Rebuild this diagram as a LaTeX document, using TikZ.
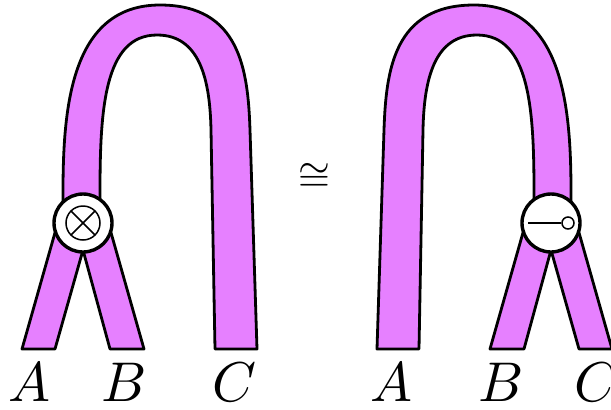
\documentclass[tikz,border=0pt]{standalone}
\usetikzlibrary{calc}
\definecolor{tube}{RGB}{230,128,255}
\newcommand\halftubes{%
  \path[tubestyle] (22,349) -- (55,349) -- (83,250) -- (60,215) -- cycle;
  \path[tubestyle] (110,349) -- (144,349) -- (106,215) -- (83,250) -- cycle;
  \path[tubestyle] (63,232) -- (63,193) .. controls (63,110) and (70,5) .. (160,5)
     .. controls (240,5) and (248,70) .. (250,130) -- (257,349) -- (215,349)
     -- (211,130) .. controls (210,80) and (200,35) .. (157,35)
     .. controls (104,35) and (100,110) .. (100,193) -- (100,232) -- cycle;
}
\begin{document}
\begin{tikzpicture}[x=0.5pt,y=-0.5pt,
  tubestyle/.style={fill=tube, draw=black, line width=1.4pt, line join=round},
  nodering/.style={circle, draw, fill=white, line width=1.7pt, minimum size=29pt, inner sep=0pt},
  symline/.style={line width=0.75pt},
  lab/.style={scale=2.8, anchor=base, inner sep=0pt}]
\useasboundingbox (0,0) rectangle (611,409);
% left diagram
\halftubes
\node[nodering] (m1) at (83,223) {};
\draw[symline] (m1.center) circle[radius=8.5pt];
\draw[symline] ($(m1.center)+(45:17)$) -- ($(m1.center)+(225:17)$);
\draw[symline] ($(m1.center)+(135:17)$) -- ($(m1.center)+(315:17)$);
% right diagram (mirror)
\begin{scope}[shift={(634,0)}, xscale=-1]
\halftubes
\end{scope}
\node[nodering] (m2) at (551,223) {};
\coordinate (s1) at ($(m2.center)+(-23,0)$);
\node[circle, draw, fill=white, line width=0.75pt, minimum size=6pt, inner sep=0pt] (d2) at ($(m2.center)+(17,0)$) {};
\draw[symline] (s1) -- (d2);
% isomorphism
\node[scale=2.05, inner sep=0pt] (iso) at (314,177) {$\cong$};
% labels
\node[lab] (la1) at (30,401) {$A$};
\node[lab] (lb1) at (124,401) {$B$};
\node[lab] (lc1) at (235,401) {$C$};
\node[lab] (la2) at (391,401) {$A$};
\node[lab] (lb2) at (501,401) {$B$};
\node[lab] (lc2) at (597,401) {$C$};
\end{tikzpicture}
\end{document}
